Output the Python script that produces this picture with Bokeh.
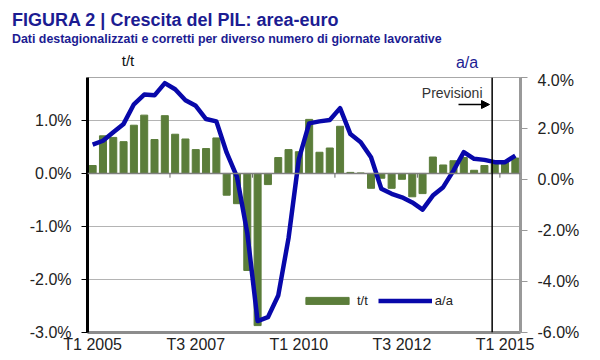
from bokeh.plotting import figure
from bokeh.layouts import column
from bokeh.models import (Range1d, LinearAxis, FixedTicker, Span, Label, Arrow,
                          NormalHead, Legend, LegendItem, ColumnDataSource, Div)
from bokeh.embed import file_html
from bokeh.resources import INLINE

# ---------------- data ----------------
years = list(range(2005, 2016))
quarters = [f"T{q} {y}" for y in years for q in (1, 2, 3, 4)][:42]   # T1 2005 .. T2 2015
tt = [0.15, 0.71, 0.68, 0.60, 0.91, 1.10, 0.64, 1.09, 0.74, 0.65, 0.45, 0.47, 0.67,
      -0.41, -0.57, -1.83, -2.87, -0.21, 0.30, 0.45, 0.41, 1.02, 0.40, 0.48, 0.89,
      0.02, 0.01, -0.28, -0.09, -0.28, -0.11, -0.44, -0.38, 0.31, 0.16, 0.24, 0.30,
      0.06, 0.15, 0.18, 0.21, 0.29]
aa = [1.37, 1.52, 1.85, 2.18, 2.95, 3.33, 3.30, 3.78, 3.54, 3.11, 2.89, 2.37, 2.28,
      1.05, 0.10, -2.10, -5.55, -5.40, -4.55, -2.30, 0.80, 2.20, 2.28, 2.33, 2.80,
      1.78, 1.46, 0.87, -0.36, -0.56, -0.70, -0.90, -1.18, -0.63, -0.30, 0.35, 1.07,
      0.81, 0.77, 0.68, 0.68, 0.94]
left_ticks = [-3, -2, -1, 0, 1]
right_ticks = [-6, -4, -2, 0, 2, 4]
forecast_start = "T4 2014"
title = "FIGURA 2 | Crescita del PIL: area-euro"
subtitle = "Dati destagionalizzati e corretti per diverso numero di giornate lavorative"

N = len(quarters)
FONT = "Liberation Sans"
NAVY = "#1c1c92"
GREEN = "#5b7d3a"
BLUE = "#0808aa"

YMIN, YMAX = -3.0, 1.81
src = ColumnDataSource(dict(x=[i + 0.5 for i in range(N)], tt=tt, aa=aa))

# layout geometry (page px)
W = 592
HEAD = 71                      # header strip height
FL, FT, FW, FH = 87, 77, 433, 255
def xd(px):
    return (px - FL) / FW * N
def yd(py):
    return YMAX - (py - FT) / FH * (YMAX - YMIN)

# ---------------- header (titles) ----------------
def span_html(left, baseline, size, text, color, bold=False, width=None, align="left"):
    top = baseline - 0.8465 * size
    w = f"width:{width}px;" if width else ""
    return (f'<div style="position:absolute;left:{left}px;top:{top:.1f}px;{w}'
            f'font-size:{size}px;line-height:{size}px;font-weight:{"bold" if bold else "normal"};'
            f'color:{color};white-space:nowrap;text-align:{align};">{text}</div>')

html = (f'<div style="position:relative;width:{W}px;height:{HEAD}px;'
        f'font-family:\'{FONT}\';overflow:visible;">'
        + span_html(12, 26, 18, title, NAVY, bold=True)
        + span_html(12, 43, 12.4, subtitle, NAVY, bold=True)
        + span_html(108, 66, 15, "t/t", "#111111", width=40, align="center")
        + span_html(447, 68, 16, "a/a", NAVY, width=40, align="center")
        + '</div>')
head = Div(text=html, width=W, height=HEAD, margin=0)

# ---------------- main chart ----------------
p = figure(frame_width=FW, frame_height=FH, output_backend="svg", toolbar_location=None,
           x_range=Range1d(0, N), y_range=Range1d(YMIN, YMAX),
           min_border_left=FL, min_border_right=W - FL - FW, min_border_top=FT - HEAD,
           min_border_bottom=20, title=None, margin=0)
p.extra_y_ranges = {"aa": Range1d(-6, 4)}
p.outline_line_color = "#a8a8a8"
p.outline_line_width = 1
p.background_fill_color = "white"
p.border_fill_color = "white"

# grid
p.xgrid.visible = False
p.ygrid.ticker = FixedTicker(ticks=left_ticks)
p.ygrid.grid_line_color = "#b4b4b4"
p.ygrid.grid_line_width = 1

# axes
p.xaxis.ticker = FixedTicker(ticks=[i + 0.5 for i in range(0, N, 10)])
p.xaxis.major_label_overrides = {i + 0.5: quarters[i] for i in range(0, N, 10)}
p.xaxis.axis_line_color = "#8c8c8c"
p.xaxis.axis_line_width = 3
p.xaxis.major_tick_line_color = None
p.xaxis.minor_tick_line_color = None
p.xaxis.major_tick_out = 0
p.xaxis.major_label_standoff = 3
p.xaxis.major_label_text_font = FONT
p.xaxis.major_label_text_font_size = "16px"
p.xaxis.major_label_text_color = "#222222"

p.yaxis.ticker = FixedTicker(ticks=left_ticks)
p.yaxis.major_label_overrides = {t: f"{t:.1f}%" for t in left_ticks}
p.yaxis.axis_line_color = "black"
p.yaxis.axis_line_width = 3
p.yaxis.major_tick_line_color = "black"
p.yaxis.major_tick_out = 6
p.yaxis.major_tick_in = 0
p.yaxis.minor_tick_line_color = None
p.yaxis.major_label_standoff = 10
p.yaxis.major_label_text_font = FONT
p.yaxis.major_label_text_font_size = "16px"
p.yaxis.major_label_text_color = "#222222"

ax2 = LinearAxis(y_range_name="aa", ticker=FixedTicker(ticks=right_ticks))
ax2.major_label_overrides = {t: f"{t:.1f}%" for t in right_ticks}
ax2.axis_line_color = "#999999"
ax2.axis_line_width = 3
ax2.major_tick_line_color = "#999999"
ax2.major_tick_out = 7
ax2.major_tick_in = 0
ax2.minor_tick_line_color = None
ax2.major_label_standoff = 10
ax2.major_label_text_font = FONT
ax2.major_label_text_font_size = "16px"
ax2.major_label_text_color = "#222222"
p.add_layout(ax2, "right")

# zero line with small ticks
p.add_layout(Span(location=0, dimension="width", line_color="#808080", line_width=1.5))
zt = list(range(8, N, 8))
p.segment(x0=zt, x1=zt, y0=[0] * len(zt), y1=[-0.08] * len(zt), line_color="#666666", line_width=1)

# data
bars = p.vbar(x="x", top="tt", width=0.68, source=src, fill_color=GREEN, line_color=GREEN)
line = p.line(x="x", y="aa", source=src, y_range_name="aa", line_color=BLUE, line_width=4.5,
              line_join="round")

# forecast marker
fc = quarters.index(forecast_start)
p.add_layout(Span(location=fc + 0.25, dimension="height", line_color="black", line_width=1.5))
p.add_layout(Label(x=xd(482), y=yd(92.5), text="Previsioni", text_align="right",
                   text_baseline="alphabetic", text_font=FONT, text_font_size="14px",
                   text_color="#333333"))
p.add_layout(Arrow(x_start=xd(458), y_start=yd(104), x_end=xd(489), y_end=yd(104),
                   line_color="black", line_width=1.5,
                   end=NormalHead(size=8, fill_color="black", line_color="black")))

# legend
legend = Legend(items=[LegendItem(label="t/t", renderers=[bars]),
                       LegendItem(label="a/a", renderers=[line])],
                orientation="horizontal", location=(213, 24),
                glyph_width=54, glyph_height=9, label_height=12, label_width=0,
                label_standoff=3, spacing=10, padding=0, margin=0,
                border_line_color=None, background_fill_alpha=0,
                label_text_font=FONT, label_text_font_size="13px",
                label_text_color="#222222")
p.add_layout(legend)

layout = column(head, p, spacing=0)
open("out.html", "w").write(file_html(layout, INLINE))
